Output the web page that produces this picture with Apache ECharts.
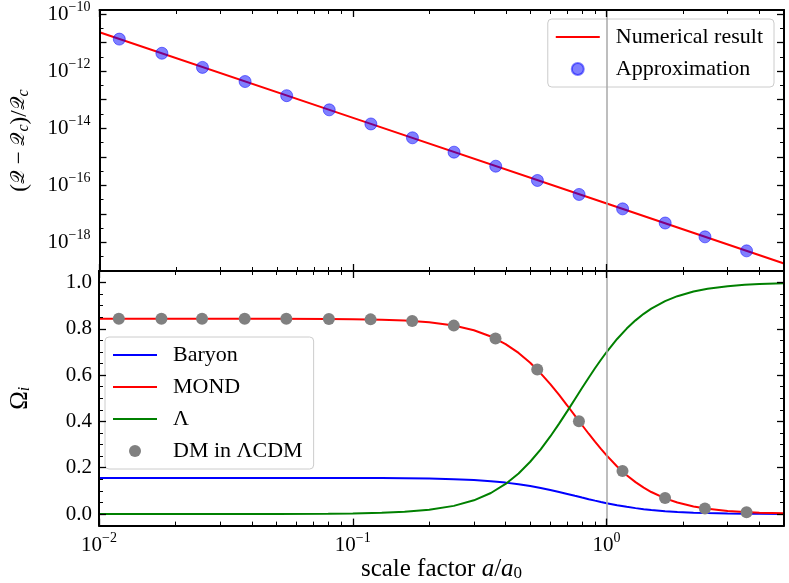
<!DOCTYPE html>
<html>
<head>
<meta charset="utf-8">
<script src="https://cdn.jsdelivr.net/npm/echarts@6/dist/echarts.min.js"></script>
<style>
  html, body { margin: 0; padding: 0; background: #fff; }
  #chart { width: 789px; height: 583px; }
</style>
</head>
<body>
<div id="chart"></div>
<script>
// ---- values ----
// top panel: relative deviation, numerical line and approximation dots
const lineA = [0.01, 0.1, 1, 5];
const numericalQ = [2.3e-11, 2.3e-14, 2.3e-17, 1.83e-19];
const dotA = [0.01197, 0.01762, 0.02547, 0.0375, 0.0547, 0.0805, 0.1175, 0.1714,
              0.250, 0.365, 0.533, 0.778, 1.155, 1.70, 2.44, 3.56];
const approxQ = [1.32e-11, 4.22e-12, 1.35e-12, 4.32e-13, 1.38e-13, 4.40e-14, 1.41e-14, 4.62e-15,
                 1.45e-15, 4.68e-16, 1.48e-16, 4.79e-17, 1.50e-17, 4.79e-18, 1.57e-18, 5.07e-19];

// bottom panel: density fractions
const curveA = [0.01, 0.02, 0.05, 0.08, 0.1, 0.13, 0.16, 0.2, 0.25, 0.3, 0.35, 0.4, 0.45, 0.5,
                0.55, 0.6, 0.65, 0.7, 0.75, 0.8, 0.85, 0.9, 0.95, 1.0, 1.1, 1.2, 1.3, 1.4, 1.5,
                1.7, 1.9, 2.2, 2.5, 3.0, 3.5, 4.0, 5.0];
const baryon = [0.1560, 0.1560, 0.1560, 0.1558, 0.1556, 0.1552, 0.1545, 0.1531, 0.1505, 0.1468,
                0.1418, 0.1357, 0.1286, 0.1208, 0.1124, 0.1037, 0.0951, 0.0867, 0.0786, 0.0711,
                0.0641, 0.0578, 0.0520, 0.0468, 0.0380, 0.0310, 0.0255, 0.0211, 0.0176, 0.0125,
                0.0092, 0.0060, 0.0042, 0.0024, 0.0015, 0.0010, 0.0005];
const mond = [0.8440, 0.8440, 0.8438, 0.8430, 0.8420, 0.8397, 0.8360, 0.8285, 0.8143, 0.7940,
              0.7672, 0.7343, 0.6960, 0.6534, 0.6080, 0.5612, 0.5144, 0.4688, 0.4253, 0.3846,
              0.3469, 0.3125, 0.2813, 0.2532, 0.2056, 0.1677, 0.1378, 0.1140, 0.0951, 0.0677,
              0.0496, 0.0327, 0.0225, 0.0132, 0.0084, 0.0056, 0.0029];
const lambda = [0.0000, 0.0000, 0.0003, 0.0012, 0.0023, 0.0051, 0.0095, 0.0183, 0.0352, 0.0593,
                0.0909, 0.1299, 0.1754, 0.2258, 0.2797, 0.3351, 0.3905, 0.4446, 0.4961, 0.5444,
                0.5890, 0.6298, 0.6667, 0.7000, 0.7564, 0.8013, 0.8368, 0.8649, 0.8873, 0.9198,
                0.9412, 0.9613, 0.9733, 0.9844, 0.9901, 0.9934, 0.9966];
const dmLCDM = [0.844, 0.844, 0.844, 0.844, 0.844, 0.843, 0.841, 0.834,
                0.814, 0.758, 0.624, 0.401, 0.186, 0.069, 0.024, 0.008];

// axis ranges / ticks (log10 space for the log axes)
const xMin = -2, xMax = Math.log10(5);
const xMajor = [-2, -1, 0];
const topYMin = -19, topYMax = -9.86;
const topYMajor = [-18, -17, -16, -15, -14, -13, -12, -11, -10];
const topYLabels = [-18, -16, -14, -12, -10];
const botYMin = -0.05, botYMax = 1.05;
const botYMajor = [0, 0.2, 0.4, 0.6, 0.8, 1.0];

const xMinor = [];
for (let n = -2; n <= 0; n++) {
  for (let k = 2; k <= 9; k++) {
    const v = Math.log10(k * Math.pow(10, n));
    if (v <= xMax + 1e-9) xMinor.push(v);
  }
}
const topYMinor = [];
for (let v = -18.5; v < -9.9; v += 1) topYMinor.push(v);
const botYMinor = [];
for (let i = 1; i <= 20; i++) {
  if (i % 4 !== 0) botYMinor.push(+(i * 0.05).toFixed(2));
}

const FONT = "'Liberation Serif', 'DejaVu Serif', serif";
const powRich = {
  b: { fontSize: 21, fontFamily: FONT, color: '#000' },
  s: { fontSize: 14, fontFamily: FONT, color: '#000', padding: [0, 0, 14, 0] }
};
function powLabel(v) {
  const e = Math.round(v);
  return '{b|10}{s|' + (e < 0 ? '\u2212' + (-e) : e) + '}';
}

const LOG = v => Math.log10(v);

function axisPair(gridIndex, position, min, max, major, minor, label) {
  const common = {
    type: 'value', gridIndex, position, min, max, z: 5,
    splitLine: { show: false }
  };
  const majorAxis = Object.assign({}, common, {
    axisLine: { show: true, onZero: false, lineStyle: { color: '#000', width: 2 } },
    axisTick: { show: true, inside: true, length: 7, customValues: major,
                lineStyle: { color: '#000', width: 1.3 } },
    axisLabel: label ? Object.assign({ show: true, customValues: label.values }, label.opts)
                     : { show: false }
  });
  const minorAxis = Object.assign({}, common, {
    axisLine: { show: false, onZero: false },
    axisTick: { show: true, inside: true, length: 4, customValues: minor,
                lineStyle: { color: '#000', width: 1 } },
    axisLabel: { show: false }
  });
  return [majorAxis, minorAxis];
}

const xLabelOpts = { formatter: powLabel, rich: powRich, margin: 6 };
const xAxes = [].concat(
  axisPair(0, 'bottom', xMin, xMax, xMajor, xMinor, null),   // 0,1
  axisPair(0, 'top', xMin, xMax, xMajor, xMinor, null),      // 2,3
  axisPair(1, 'bottom', xMin, xMax, xMajor, xMinor,
           { values: xMajor, opts: xLabelOpts }),            // 4,5
  axisPair(1, 'top', xMin, xMax, xMajor, xMinor, null)       // 6,7
);
xAxes[4].name = 'scale factor {i|a}/{i|a}{sub|0}';
xAxes[4].nameLocation = 'middle';
xAxes[4].nameGap = 9;
xAxes[4].nameTextStyle = {
  fontFamily: FONT, fontSize: 25, color: '#000',
  rich: {
    i: { fontFamily: FONT, fontSize: 25, fontStyle: 'italic', color: '#000' },
    sub: { fontFamily: FONT, fontSize: 17, color: '#000', padding: [8, 0, 0, 0] }
  }
};

const yAxes = [].concat(
  axisPair(0, 'left', topYMin, topYMax, topYMajor, topYMinor,
           { values: topYLabels, opts: { formatter: powLabel, rich: powRich, margin: 9 } }), // 0,1
  axisPair(0, 'right', topYMin, topYMax, topYMajor, topYMinor, null),                   // 2,3
  axisPair(1, 'left', botYMin, botYMax, botYMajor, botYMinor,
           { values: botYMajor,
             opts: { formatter: v => v.toFixed(1), fontFamily: FONT, fontSize: 21,
                     color: '#000', margin: 7 } }),                                      // 4,5
  axisPair(1, 'right', botYMin, botYMax, botYMajor, botYMinor, null)                    // 6,7
);
yAxes[0].name = '({q|\uD835\uDCAC} \u2212 {q|\uD835\uDCAC}{sub|c})/{q|\uD835\uDCAC}{sub|c}';
yAxes[0].nameLocation = 'middle';
yAxes[0].nameRotate = 90;
yAxes[0].nameGap = 68;
yAxes[0].nameTextStyle = {
  fontFamily: FONT, fontSize: 23, color: '#000',
  rich: {
    q: { fontFamily: FONT, fontSize: 19, color: '#000' },
    sub: { fontFamily: FONT, fontSize: 16, fontStyle: 'italic', color: '#000', padding: [8, 0, 0, 0] }
  }
};
yAxes[4].name = '{o|\u03A9}{sub|i}';
yAxes[4].nameLocation = 'middle';
yAxes[4].nameRotate = 90;
yAxes[4].nameGap = 66;
yAxes[4].nameTextStyle = {
  fontFamily: FONT, fontSize: 24, color: '#000',
  rich: {
    o: { fontFamily: FONT, fontSize: 25, color: '#000' },
    sub: { fontFamily: FONT, fontSize: 16, fontStyle: 'italic', color: '#000', padding: [8, 0, 0, 0] }
  }
};

const pts = (xs, ys, fy) => xs.map((a, i) => [LOG(a), fy ? fy(ys[i]) : ys[i]]);

const vline = (xi, yi, name) => ({
  name, type: 'line', xAxisIndex: xi, yAxisIndex: yi, z: 1, data: [], symbol: 'none',
  markLine: {
    silent: true, symbol: ['none', 'none'], label: { show: false },
    lineStyle: { color: '#a8a8a8', width: 1.5, type: 'solid' },
    data: [{ xAxis: 0 }]
  }
});

const lineIcon = 'path://M0,0L44,0L44,2L0,2Z';
const legendBase = {
  orient: 'vertical',
  backgroundColor: 'rgba(255,255,255,0.8)',
  borderColor: '#cccccc', borderWidth: 1, borderRadius: 4,
  padding: [7, 11, 7, 8],
  itemWidth: 44, itemHeight: 12, itemGap: 10,
  textStyle: { fontFamily: FONT, fontSize: 22, color: '#000', padding: [0, 0, 0, 11] }
};

const option = {
  animation: false,
  backgroundColor: '#fff',
  grid: [
    { left: 96, right: 5, top: 9, height: 262 },
    { left: 96, right: 5, top: 271, height: 264 }
  ],
  xAxis: xAxes,
  yAxis: yAxes,
  legend: [
    Object.assign({}, legendBase, {
      data: [{ name: 'Numerical result', icon: lineIcon }, { name: 'Approximation', icon: 'circle' }],
      right: 15, top: 19
    }),
    Object.assign({}, legendBase, {
      data: [{ name: 'Baryon', icon: lineIcon }, { name: 'MOND', icon: lineIcon },
             { name: '\u039B', icon: lineIcon }, { name: 'DM in \u039BCDM', icon: 'circle' }],
      left: 105, top: 337
    })
  ],
  series: [
    vline(0, 0, '_v0'),
    vline(4, 4, '_v1'),
    {
      name: 'Numerical result', type: 'line', xAxisIndex: 0, yAxisIndex: 0, z: 3,
      data: pts(lineA, numericalQ, LOG), symbol: 'none',
      lineStyle: { color: '#ff0000', width: 2 }, itemStyle: { color: '#ff0000' }
    },
    {
      name: 'Approximation', type: 'scatter', xAxisIndex: 0, yAxisIndex: 0, z: 4,
      data: pts(dotA, approxQ, LOG), symbolSize: 12,
      itemStyle: { color: 'rgba(0,0,255,0.5)', borderColor: 'rgba(0,0,255,0.5)', borderWidth: 1, opacity: 1 }
    },
    {
      name: 'Baryon', type: 'line', xAxisIndex: 4, yAxisIndex: 4, z: 3,
      data: pts(curveA, baryon), symbol: 'none',
      lineStyle: { color: '#0000ff', width: 2 }, itemStyle: { color: '#0000ff' }
    },
    {
      name: 'MOND', type: 'line', xAxisIndex: 4, yAxisIndex: 4, z: 3,
      data: pts(curveA, mond), symbol: 'none',
      lineStyle: { color: '#ff0000', width: 2 }, itemStyle: { color: '#ff0000' }
    },
    {
      name: '\u039B', type: 'line', xAxisIndex: 4, yAxisIndex: 4, z: 3,
      data: pts(curveA, lambda), symbol: 'none',
      lineStyle: { color: '#008000', width: 2 }, itemStyle: { color: '#008000' }
    },
    {
      name: 'DM in \u039BCDM', type: 'scatter', xAxisIndex: 4, yAxisIndex: 4, z: 4,
      data: pts(dotA, dmLCDM), symbolSize: 12,
      itemStyle: { color: '#808080', opacity: 1 }
    }
  ]
};

const chart = echarts.init(document.getElementById('chart'), null, { renderer: 'canvas' });
chart.setOption(option);
</script>
</body>
</html>
